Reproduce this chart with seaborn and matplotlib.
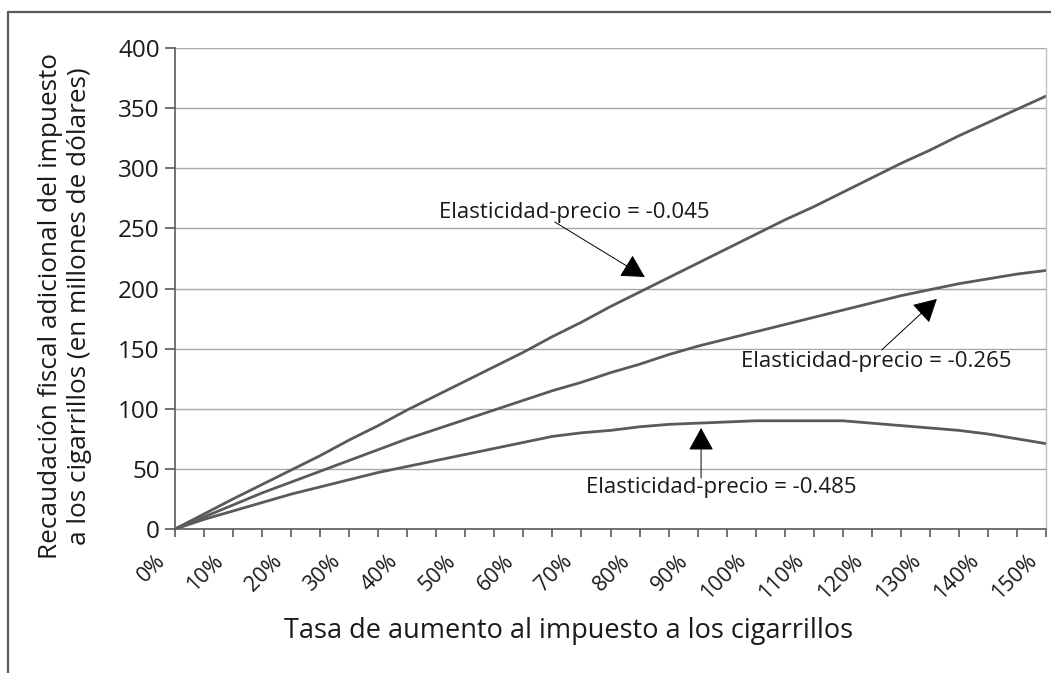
import numpy as np
import pandas as pd
import seaborn as sns
import matplotlib.pyplot as plt
from matplotlib.lines import Line2D
from matplotlib.transforms import ScaledTranslation
from matplotlib.ticker import MultipleLocator, FuncFormatter

# tasa de aumento (%), cada 5%
tasa = list(range(0, 155, 5))

# recaudacion adicional (millones de dolares) por elasticidad
rec_045 = [0, 12.5, 25, 37, 49, 61, 74, 86, 99, 111, 123, 135, 147, 160, 172, 185,
           197, 209, 221, 233, 245, 257, 268, 280, 292, 304, 315, 327, 338, 349, 360]
rec_265 = [0, 10, 20, 30, 39, 48, 57, 66, 75, 83, 91, 99, 107, 115, 122, 130,
           137, 145, 152, 158, 164, 170, 176, 182, 188, 194, 199, 204, 208, 212, 215]
rec_485 = [0, 8, 15, 22, 29, 35, 41, 47, 52, 57, 62, 67, 72, 77, 80, 82,
           85, 87, 88, 89, 90, 90, 90, 90, 88, 86, 84, 82, 79, 75, 71]

etiquetas = ["Elasticidad-precio = -0.045",
             "Elasticidad-precio = -0.265",
             "Elasticidad-precio = -0.485"]

df = pd.concat([
    pd.DataFrame({"tasa": tasa, "rec": rec_045, "serie": etiquetas[0]}),
    pd.DataFrame({"tasa": tasa, "rec": rec_265, "serie": etiquetas[1]}),
    pd.DataFrame({"tasa": tasa, "rec": rec_485, "serie": etiquetas[2]}),
])

sns.set_style("white")
plt.rcParams['font.family'] = ['Open Sans', 'DejaVu Sans']

gris = "#5a5a5a"
texto = "#1a1a1a"

fig = plt.figure(figsize=(10.51, 6.73), dpi=100)
ax = fig.add_axes([175/1051, 1 - 529/673, 871/1051, 481/673])

sns.lineplot(data=df, x="tasa", y="rec", hue="serie",
             palette=[gris, gris, gris], linewidth=2, legend=False, ax=ax)

ax.set_xlim(0, 150)
ax.set_ylim(0, 400)
ax.yaxis.set_major_locator(MultipleLocator(50))
ax.xaxis.set_major_locator(MultipleLocator(10))
ax.xaxis.set_minor_locator(MultipleLocator(5))
ax.xaxis.set_major_formatter(FuncFormatter(lambda v, p: f"{int(v)}%"))
ax.grid(axis="y", color="#a8a8a8", linewidth=1)
ax.set_axisbelow(True)

for s in ["left", "bottom"]:
    ax.spines[s].set_color(gris)
    ax.spines[s].set_linewidth(1.2)
ax.spines["top"].set_visible(False)
ax.spines["right"].set_color("#c0c0c0")
ax.spines["right"].set_linewidth(1)

ax.tick_params(axis="y", which="major", direction="out", length=7, width=1.2,
               color=gris, labelsize=17.5, labelcolor=texto, pad=4, left=True)
ax.tick_params(axis="x", which="both", direction="out", length=6, width=1.2,
               color=gris, bottom=True)
ax.tick_params(axis="x", which="major", labelsize=15.5, labelcolor=texto, pad=5)
desplaza = ScaledTranslation(-5/100, -6/100, fig.dpi_scale_trans)
for lab in ax.get_xticklabels():
    lab.set_rotation(45)
    lab.set_ha("right")
    lab.set_transform(lab.get_transform() + desplaza)

ax.set_xlabel("Tasa de aumento al impuesto a los cigarrillos",
              fontsize=19.5, color=texto)
ax.xaxis.set_label_coords(0.452, -0.183)
ax.set_ylabel("Recaudación fiscal adicional del impuesto\na los cigarrillos (en millones de dólares)",
              fontsize=18.8, color=texto, linespacing=1.25)
ax.yaxis.set_label_coords(-0.095, 0.464)

# anotaciones con flecha
notas = [
    (etiquetas[0], (68.8, 263.6), (65.4, 255.3), (80.9, 209.6)),
    (etiquetas[1], (120.7, 138.9), (121.7, 148.9), (131.2, 191.3)),
    (etiquetas[2], (94.1, 34.1), (90.6, 42.4), (90.6, 84)),
]
for txt, pos, cola, punta in notas:
    ax.text(pos[0], pos[1], txt, ha="center", va="center",
            fontsize=16, color=texto,
            bbox=dict(facecolor="white", edgecolor="none", pad=1))
    ax.annotate("", xy=punta, xytext=cola,
                arrowprops=dict(arrowstyle="-|>,head_length=0.4,head_width=0.22",
                                mutation_scale=36, color="black", lw=0.7,
                                shrinkA=0, shrinkB=0))

# marco exterior (solo arriba e izquierda visibles)
fig.add_artist(Line2D([8/1051, 1], [1 - 12/673, 1 - 12/673],
                      transform=fig.transFigure, color=gris, lw=1.6))
fig.add_artist(Line2D([8/1051, 8/1051], [1 - 12/673, 0],
                      transform=fig.transFigure, color=gris, lw=1.6))

fig.savefig("out.png", dpi=100)
